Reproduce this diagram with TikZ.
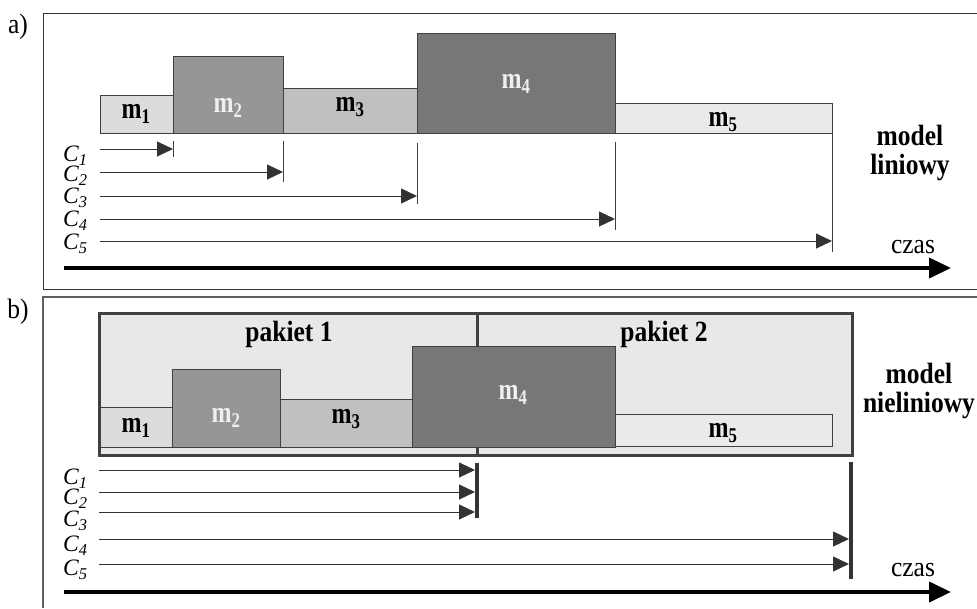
\documentclass[tikz,border=0pt]{standalone}
\usepackage{fontspec}
\usepackage{graphicx}
\setmainfont{Liberation Serif}
\usetikzlibrary{arrows.meta}
\definecolor{fillA}{HTML}{DCDCDC}
\definecolor{fillB}{HTML}{969696}
\definecolor{fillC}{HTML}{C0C0C0}
\definecolor{fillD}{HTML}{777777}
\definecolor{fillE}{HTML}{EAEAEA}
\definecolor{pak}{HTML}{E8E8E8}
\definecolor{bord}{HTML}{404040}
\definecolor{arrc}{HTML}{333333}
\definecolor{frameA}{HTML}{333333}
\definecolor{frameB}{HTML}{606060}
\definecolor{lightlab}{HTML}{F0F0F0}
\newcommand{\vstr}[2]{\scalebox{1}[#1]{#2}}
\newcommand{\twol}[2]{\begin{tabular}{@{}c@{}}#1\\#2\end{tabular}}
\begin{document}
\begin{tikzpicture}[x=1pt,y=-1pt,
  blk/.style={draw=bord,line width=1pt},
  mlab/.style={font=\fontsize{24}{28}\selectfont\bfseries,inner sep=0pt},
  blab/.style={font=\fontsize{25.5}{25}\selectfont\bfseries,inner sep=0pt,align=center},
  clab/.style={font=\fontsize{23.5}{24}\selectfont\itshape,anchor=west,inner sep=0pt},
  plab/.style={font=\fontsize{25.5}{29}\selectfont,inner sep=0pt},
  carr/.style={draw=arrc,line width=0.9pt,-{Triangle[length=16pt,width=15pt]},arrc},
  tickl/.style={draw=bord,line width=1pt},
  bar/.style={draw=arrc,line width=4pt},
  axis/.style={line width=4pt,-{Triangle[length=22pt,width=20pt]}},
]
\useasboundingbox (0,0) rectangle (977,608);
% ---------- frames
\draw[frameA,line width=1pt] (977,13) -- (43,13) -- (43,289) -- (977,289);
\draw[frameB,line width=1.8pt] (977,297) -- (43,297) -- (43,608);
\node[plab] (la) at (18,27) {\vstr{1.1}{a)}};
\node[plab] (lb) at (18,312) {\vstr{1.1}{b)}};
% ---------- panel a blocks
\draw[blk,fill=fillA] (100,95) rectangle (173,133);
\draw[blk,fill=fillB] (173,56) rectangle (283,133);
\draw[blk,fill=fillC] (283,88) rectangle (417,133);
\draw[blk,fill=fillD] (417,33) rectangle (615,133);
\draw[blk,fill=fillE] (615,103) rectangle (832,133);
\node[mlab] (am1) at (136,114) {\vstr{1.25}{m\textsubscript{1}}};
\node[mlab,text=lightlab] (am2) at (228,108) {\vstr{1.25}{m\textsubscript{2}}};
\node[mlab] (am3) at (350,107) {\vstr{1.25}{m\textsubscript{3}}};
\node[mlab,text=lightlab] (am4) at (516,84) {\vstr{1.25}{m\textsubscript{4}}};
\node[mlab] (am5) at (723,122) {\vstr{1.25}{m\textsubscript{5}}};
% ticks a
\coordinate (at1a) at (173,141); \coordinate (at1b) at (173,157);
\coordinate (at2a) at (283,141); \coordinate (at2b) at (283,182);
\coordinate (at3a) at (417,143); \coordinate (at3b) at (417,204);
\coordinate (at4a) at (615,142); \coordinate (at4b) at (615,230);
\coordinate (at5a) at (832,133); \coordinate (at5b) at (832,252);
\draw[tickl] (at1a) -- (at1b);
\draw[tickl] (at2a) -- (at2b);
\draw[tickl] (at3a) -- (at3b);
\draw[tickl] (at4a) -- (at4b);
\draw[tickl] (at5a) -- (at5b);
% arrows a
\coordinate (ac1s) at (100,149); \coordinate (ac1e) at (173,149);
\coordinate (ac2s) at (100,172); \coordinate (ac2e) at (283,172);
\coordinate (ac3s) at (100,196); \coordinate (ac3e) at (417,196);
\coordinate (ac4s) at (100,219); \coordinate (ac4e) at (615,219);
\coordinate (ac5s) at (100,241); \coordinate (ac5e) at (832,241);
\draw[carr] (ac1s) -- (ac1e);
\draw[carr] (ac2s) -- (ac2e);
\draw[carr] (ac3s) -- (ac3e);
\draw[carr] (ac4s) -- (ac4e);
\draw[carr] (ac5s) -- (ac5e);
\node[clab] (aC1) at (63,156) {C\textsubscript{1}};
\node[clab] (aC2) at (63,176) {C\textsubscript{2}};
\node[clab] (aC3) at (63,198) {C\textsubscript{3}};
\node[clab] (aC4) at (63,221) {C\textsubscript{4}};
\node[clab] (aC5) at (63,244) {C\textsubscript{5}};
% axis a
\coordinate (aaxs) at (64,268); \coordinate (aaxe) at (951,268);
\draw[axis] (aaxs) -- (aaxe);
\node[plab] (aczas) at (913,247) {\vstr{1.1}{czas}};
\node[blab] (amodel) at (910,154) {\vstr{1.15}{\twol{model}{liniowy}}};
% ---------- panel b packets
\draw[draw=bord,line width=3pt,fill=pak] (99,313) rectangle (852,455);
\draw[draw=bord,line width=3pt] (477,313) -- (477,455);
\node[blab] (pk1) at (289,334) {\vstr{1.15}{pakiet 1}};
\node[blab] (pk2) at (664,334) {\vstr{1.15}{pakiet 2}};
% blocks b
\draw[blk,fill=fillA] (100,407) rectangle (172,447);
\draw[blk,fill=fillB] (172,369) rectangle (280,447);
\draw[blk,fill=fillC] (280,399) rectangle (412,447);
\draw[blk,fill=fillD] (412,346) rectangle (615,447);
\draw[blk,fill=fillE] (615,414) rectangle (832,446);
\node[mlab] (bm1) at (136,428) {\vstr{1.25}{m\textsubscript{1}}};
\node[mlab,text=lightlab] (bm2) at (226,418) {\vstr{1.25}{m\textsubscript{2}}};
\node[mlab] (bm3) at (346,419) {\vstr{1.25}{m\textsubscript{3}}};
\node[mlab,text=lightlab] (bm4) at (513,395) {\vstr{1.25}{m\textsubscript{4}}};
\node[mlab] (bm5) at (723,433) {\vstr{1.25}{m\textsubscript{5}}};
% bars b
\coordinate (bb1a) at (477,463); \coordinate (bb1b) at (477,518);
\coordinate (bb2a) at (851,462); \coordinate (bb2b) at (851,579);
\draw[bar] (bb1a) -- (bb1b);
\draw[bar] (bb2a) -- (bb2b);
% arrows b
\coordinate (bc1s) at (99,470); \coordinate (bc1e) at (475,470);
\coordinate (bc2s) at (99,492); \coordinate (bc2e) at (475,492);
\coordinate (bc3s) at (99,512); \coordinate (bc3e) at (475,512);
\coordinate (bc4s) at (99,539); \coordinate (bc4e) at (849,539);
\coordinate (bc5s) at (99,564); \coordinate (bc5e) at (849,564);
\draw[carr] (bc1s) -- (bc1e);
\draw[carr] (bc2s) -- (bc2e);
\draw[carr] (bc3s) -- (bc3e);
\draw[carr] (bc4s) -- (bc4e);
\draw[carr] (bc5s) -- (bc5e);
\node[clab] (bC1) at (63,479) {C\textsubscript{1}};
\node[clab] (bC2) at (63,499) {C\textsubscript{2}};
\node[clab] (bC3) at (63,521) {C\textsubscript{3}};
\node[clab] (bC4) at (63,546) {C\textsubscript{4}};
\node[clab] (bC5) at (63,570) {C\textsubscript{5}};
% axis b
\coordinate (baxs) at (64,592); \coordinate (baxe) at (951,592);
\draw[axis] (baxs) -- (baxe);
\node[plab] (bczas) at (913,570) {\vstr{1.1}{czas}};
\node[blab] (bmodel) at (919,392) {\vstr{1.15}{\twol{model}{nieliniowy}}};
\end{tikzpicture}
\end{document}
